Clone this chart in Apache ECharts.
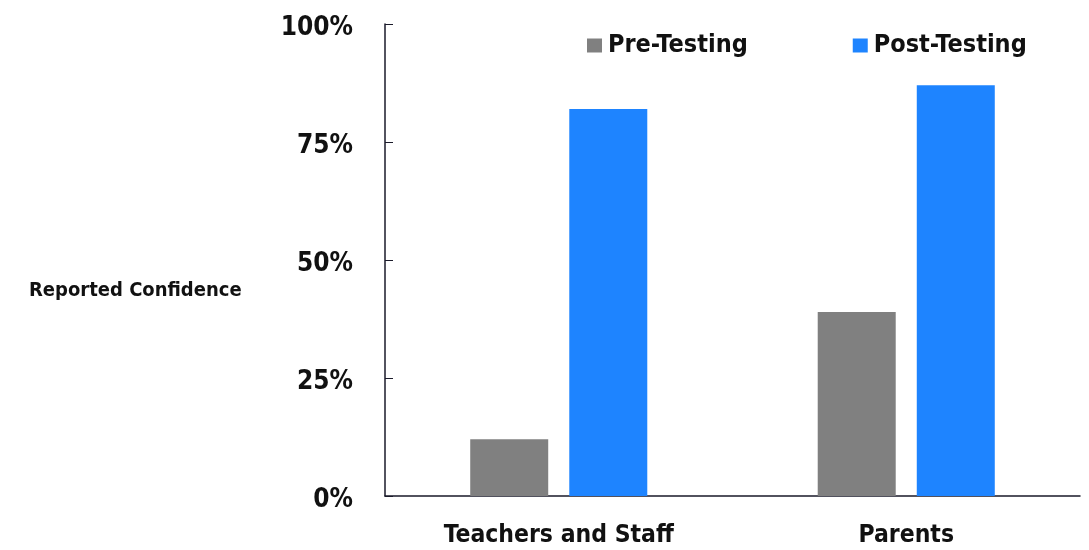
<!DOCTYPE html>
<html>
<head>
<meta charset="utf-8">
<script src="https://cdn.jsdelivr.net/npm/echarts@6/dist/echarts.min.js"></script>
<style>
  html, body { margin: 0; padding: 0; background: #fff; }
  #main { width: 1089px; height: 550px; }
</style>
</head>
<body>
<div id="main"></div>
<script>
// data
var categories = ['Teachers and Staff', 'Parents'];
var preTesting = [12, 39];
var postTesting = [82, 87];
var yTicks = [0, 25, 50, 75, 100];

var myChart = echarts.init(document.getElementById('main'));
var font = 'DejaVu Sans Condensed';

var option = {
    animation: false,
    title: {
        text: 'Reported Confidence',
        left: 24,
        top: 276,
        textStyle: {
            fontFamily: font,
            fontWeight: 'bold',
            fontSize: 20,
            color: '#111'
        }
    },
    legend: {
        left: 582,
        top: 28,
        itemWidth: 15,
        itemHeight: 14,
        itemGap: 105,
        icon: 'rect',
        textStyle: {
            fontFamily: font,
            fontWeight: 'bold',
            fontSize: 25,
            color: '#111',
            padding: [0, 0, 0, 1]
        },
        data: ['Pre-Testing', 'Post-Testing']
    },
    grid: {
        left: 385,
        right: 9,
        top: 24,
        bottom: 54
    },
    xAxis: {
        type: 'category',
        data: categories,
        axisLine: { lineStyle: { color: '#1a1a2a', width: 1.5 } },
        axisTick: { show: false },
        axisLabel: {
            margin: 27,
            fontFamily: font,
            fontWeight: 'bold',
            fontSize: 24.5,
            color: '#111'
        }
    },
    yAxis: {
        type: 'value',
        min: 0,
        max: 100,
        interval: 25,
        axisLine: { show: true, lineStyle: { color: '#1a1a2a', width: 1.5 } },
        axisTick: { show: true, inside: true, length: 8, lineStyle: { color: '#1a1a2a' } },
        splitLine: { show: false },
        axisLabel: {
            margin: 32,
            fontFamily: font,
            fontWeight: 'bold',
            fontSize: 26,
            color: '#111',
            verticalAlign: 'top',
            padding: [-9, 0, 0, 0],
            formatter: function (v) {
                return yTicks.indexOf(v) >= 0 ? v + '%' : '';
            }
        }
    },
    series: [{
        name: 'Pre-Testing',
        type: 'bar',
        data: preTesting,
        barWidth: 78,
        barGap: '27%',
        itemStyle: { color: '#808080' }
    }, {
        name: 'Post-Testing',
        type: 'bar',
        data: postTesting,
        barWidth: 78,
        itemStyle: { color: '#1e84ff' }
    }]
};

myChart.setOption(option);
</script>
</body>
</html>
